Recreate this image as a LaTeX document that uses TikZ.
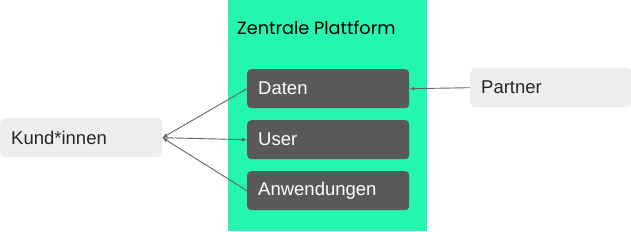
\documentclass[tikz,border=0pt]{standalone}
\usepackage{fontspec}
\setmainfont{Liberation Sans}
\newfontfamily\titlefont{Poppins}
\usetikzlibrary{arrows.meta}
\definecolor{plat}{RGB}{36,245,176}
\definecolor{darkbox}{RGB}{89,89,89}
\definecolor{lightbox}{RGB}{238,238,238}
\definecolor{conn}{RGB}{100,100,100}
\begin{document}
\begin{tikzpicture}[x=1pt,y=-1pt,
  inner/.style={fill=darkbox,rounded corners=4pt,minimum width=161pt,minimum height=39pt,text=white,font=\fontsize{18.5}{22}\selectfont,anchor=north west,text width=140pt,align=left,inner xsep=11pt},
  outer/.style={fill=lightbox,rounded corners=5pt,minimum width=161pt,minimum height=39pt,text=black!85,font=\fontsize{18.5}{22}\selectfont,anchor=north west,text width=140pt,align=left,inner xsep=11pt},
  conline/.style={draw=conn,line width=0.9pt,-{Latex[length=5pt,width=4pt]}}]
\useasboundingbox (0,0) rectangle (631,231);
\fill[plat] (228,0) rectangle (427,231);
\node[anchor=west,inner sep=0pt,font=\titlefont\fontsize{17.7}{21}\selectfont] (title) at (237,28) {Zentrale Plattform};
\node[inner] (daten) at (247,69) {Daten};
\node[inner] (user) at (247,120) {User};
\node[inner] (anw) at (247,171) {Anwendungen};
\node[outer] (kund) at (0,118) {Kund*innen};
\node[outer] (partner) at (470,68) {Partner};
\draw[conline] (daten.west) -- (kund.east);
\draw[conline] (anw.west) -- (kund.east);
\draw[conline] (kund.east) -- (user.west);
\draw[conline] (partner.west) -- (daten.east);
\end{tikzpicture}
\end{document}
